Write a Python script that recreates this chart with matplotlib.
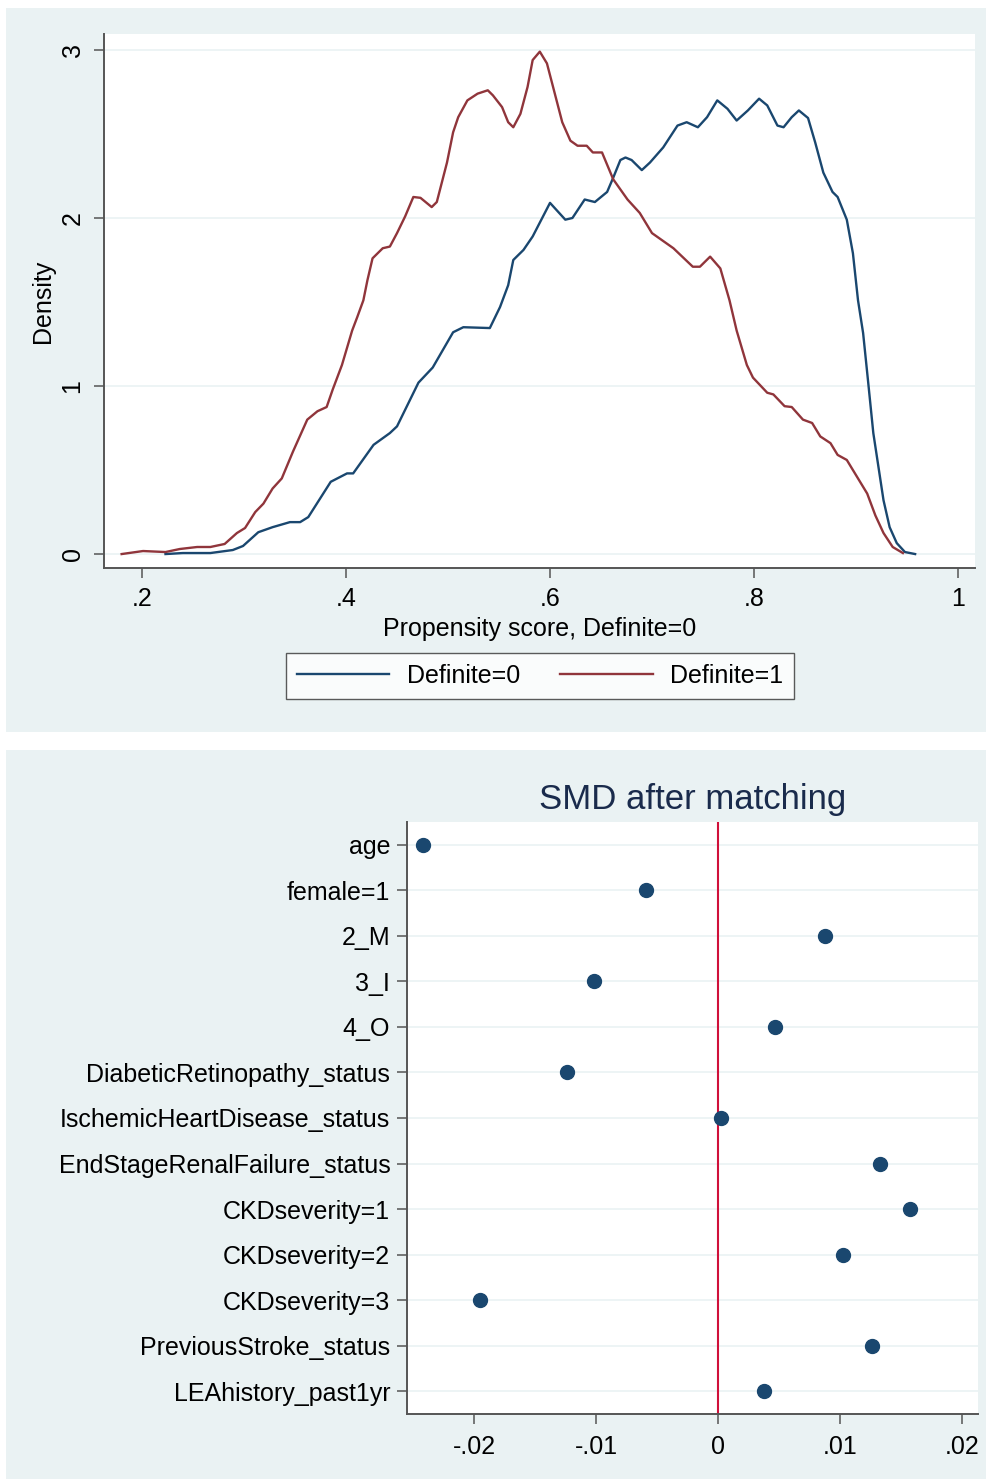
import matplotlib
matplotlib.use("Agg")
import matplotlib.pyplot as plt
import numpy as np
from matplotlib.patches import Rectangle

# propensity score density, Definite=0 (blue)
ps0_x = [0.223, 0.240, 0.267, 0.289, 0.299, 0.314, 0.328, 0.345, 0.355, 0.363,
         0.385, 0.401, 0.407, 0.427, 0.443, 0.450, 0.471, 0.485, 0.505, 0.515,
         0.541, 0.551, 0.559, 0.564, 0.574, 0.583, 0.600, 0.615, 0.622, 0.634,
         0.644, 0.656, 0.662, 0.669, 0.674, 0.680, 0.690, 0.698, 0.711, 0.725,
         0.734, 0.745, 0.754, 0.764, 0.774, 0.783, 0.794, 0.805, 0.813, 0.823,
         0.829, 0.837, 0.844, 0.853, 0.860, 0.868, 0.877, 0.882, 0.891, 0.897,
         0.902, 0.907, 0.912, 0.917, 0.922, 0.927, 0.933, 0.940, 0.948, 0.958]
ps0_d = [0.0, 0.006, 0.006, 0.024, 0.048, 0.13, 0.16, 0.19, 0.19, 0.22,
         0.43, 0.48, 0.48, 0.65, 0.72, 0.76, 1.02, 1.11, 1.32, 1.35,
         1.345, 1.47, 1.60, 1.75, 1.81, 1.89, 2.09, 1.99, 2.00, 2.11,
         2.095, 2.155, 2.24, 2.345, 2.36, 2.345, 2.285, 2.33, 2.42, 2.55,
         2.57, 2.54, 2.60, 2.70, 2.65, 2.58, 2.64, 2.71, 2.67, 2.55,
         2.54, 2.60, 2.64, 2.595, 2.45, 2.27, 2.155, 2.125, 1.99, 1.79,
         1.51, 1.315, 1.02, 0.72, 0.52, 0.32, 0.16, 0.065, 0.012, 0.0]

# propensity score density, Definite=1 (red)
ps1_x = [0.180, 0.201, 0.223, 0.237, 0.254, 0.267, 0.281, 0.293, 0.301, 0.311,
         0.319, 0.328, 0.337, 0.348, 0.362, 0.372, 0.381, 0.387, 0.396, 0.406,
         0.411, 0.417, 0.421, 0.426, 0.436, 0.443, 0.450, 0.458, 0.466, 0.473,
         0.484, 0.489, 0.499, 0.505, 0.510, 0.519, 0.529, 0.539, 0.544, 0.553,
         0.559, 0.564, 0.571, 0.578, 0.583, 0.590, 0.597, 0.603, 0.612, 0.620,
         0.627, 0.636, 0.642, 0.651, 0.662, 0.676, 0.688, 0.700, 0.721, 0.740,
         0.747, 0.757, 0.767, 0.776, 0.783, 0.793, 0.799, 0.813, 0.819, 0.830,
         0.837, 0.848, 0.857, 0.865, 0.875, 0.882, 0.891, 0.902, 0.911, 0.919,
         0.927, 0.936, 0.946]
ps1_d = [0.00, 0.018, 0.012, 0.030, 0.042, 0.042, 0.060, 0.125, 0.155, 0.25,
         0.30, 0.39, 0.45, 0.61, 0.80, 0.85, 0.875, 0.98, 1.125, 1.33,
         1.41, 1.51, 1.63, 1.76, 1.82, 1.83, 1.91, 2.01, 2.125, 2.12,
         2.065, 2.095, 2.33, 2.51, 2.60, 2.70, 2.74, 2.76, 2.73, 2.66,
         2.57, 2.54, 2.62, 2.78, 2.94, 2.99, 2.92, 2.78, 2.57, 2.46,
         2.43, 2.43, 2.39, 2.39, 2.23, 2.11, 2.03, 1.91, 1.82, 1.71,
         1.71, 1.77, 1.70, 1.51, 1.33, 1.125, 1.05, 0.96, 0.95, 0.88,
         0.875, 0.80, 0.78, 0.70, 0.66, 0.59, 0.56, 0.45, 0.36, 0.23,
         0.125, 0.042, 0.006]

# standardized mean differences after matching
smd_vars = ["age", "female=1", "2_M", "3_I", "4_O", "DiabeticRetinopathy_status",
            "IschemicHeartDisease_status", "EndStageRenalFailure_status",
            "CKDseverity=1", "CKDseverity=2", "CKDseverity=3",
            "PreviousStroke_status", "LEAhistory_past1yr"]
smd_vals = [-0.0242, -0.0059, 0.0088, -0.0102, 0.0047, -0.0124, 0.0002,
            0.0133, 0.0157, 0.0102, -0.0195, 0.0126, 0.0038]

plt.rcParams.update({
	"font.family": ["Liberation Sans", "DejaVu Sans"],
})
font_size = 18
bg = "#EAF2F3"
navy = "#1A476F"
maroon = "#90353B"
W, H = 987, 1479

fig = plt.figure(figsize=(W / 100, H / 100), dpi=100)
fig.patch.set_facecolor("white")

def fr(x0, y0, x1, y1):
	# pixel box -> figure fraction [left, bottom, width, height]
	return [x0 / W, 1 - y1 / H, (x1 - x0) / W, (y1 - y0) / H]

# panel backgrounds
for box in [(6, 8, 987, 732), (6, 750, 987, 1479)]:
	l, b, w, h = fr(*box)
	fig.patches.append(Rectangle((l, b), w, h, transform=fig.transFigure,
	                             facecolor=bg, edgecolor="none", zorder=-10))

def style_axes(ax):
	ax.set_facecolor("white")
	ax.spines['top'].set_visible(False)
	ax.spines['right'].set_visible(False)
	ax.spines['left'].set_color("#555555")
	ax.spines['bottom'].set_color("#555555")
	ax.spines['left'].set_linewidth(1.4)
	ax.spines['bottom'].set_linewidth(1.4)
	ax.tick_params(which='major', length=7, width=1.1, color="#555555",
	               direction='out', labelsize=font_size, pad=5)
	ax.set_axisbelow(True)

# ---- top: propensity score densities
ax1 = fig.add_axes(fr(104, 34, 975, 568))
style_axes(ax1)
ax1.plot(ps0_x, ps0_d, color=navy, lw=1.7, label="Definite=0")
ax1.plot(ps1_x, ps1_d, color=maroon, lw=1.7, label="Definite=1")
ax1.set_xlim(0.1627, 1.0167)
ax1.set_ylim(-0.083, 3.095)
ax1.set_xticks([0.2, 0.4, 0.6, 0.8, 1.0])
ax1.set_xticklabels([".2", ".4", ".6", ".8", "1"])
ax1.set_yticks([0, 1, 2, 3])
ax1.set_yticklabels(["0", "1", "2", "3"], rotation=90, va="center")
ax1.tick_params(axis='x', pad=7)
ax1.tick_params(axis='y', pad=7)
ax1.grid(axis='y', color=bg, lw=1.2)
ax1.set_xlabel("Propensity score, Definite=0", fontsize=font_size, labelpad=4)
ax1.set_ylabel("Density", fontsize=font_size, labelpad=4)
leg = ax1.legend(loc="center", bbox_to_anchor=(540 / W, 1 - 676 / H),
                 bbox_transform=fig.transFigure, ncol=2, fancybox=False,
                 frameon=True, fontsize=font_size, handlelength=3.7,
                 columnspacing=1.6, borderpad=0.45, handletextpad=0.7,
                 borderaxespad=0)
leg.get_frame().set_edgecolor("#333333")
leg.get_frame().set_linewidth(1.0)

# ---- bottom: SMD dot plot
ax2 = fig.add_axes(fr(407, 822, 978, 1414))
style_axes(ax2)
rows = np.arange(1, len(smd_vars) + 1)
ax2.axvline(0, color="#D0103A", lw=1.5, zorder=2)
ax2.plot(smd_vals, rows, "o", color=navy, markersize=10, zorder=3)
ax2.set_ylim(len(smd_vars) + 0.5, 0.5)
ax2.set_xlim(-0.0255, 0.0213)
ax2.set_yticks(rows)
ax2.set_yticklabels(smd_vars)
ax2.set_xticks([-0.02, -0.01, 0, 0.01, 0.02])
ax2.set_xticklabels(["-.02", "-.01", "0", ".01", ".02"])
ax2.tick_params(axis='x', pad=8)
ax2.grid(axis='y', color=bg, lw=1.2)
ax2.set_title("SMD after matching", fontsize=25, color="#1A2B4C", pad=9)

plt.savefig("out.png", dpi=100)
plt.close()
